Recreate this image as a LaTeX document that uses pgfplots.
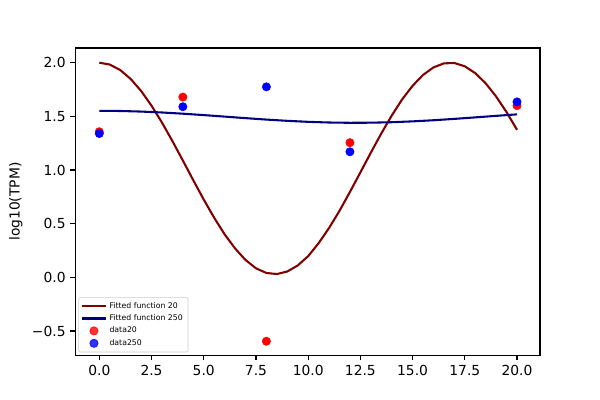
\documentclass[border=0pt]{standalone}
\usepackage{pgfplots}
\pgfplotsset{compat=1.18}
\usepackage{fontspec}
\setmainfont{DejaVu Sans}
\definecolor{mred}{RGB}{128,0,0}
\definecolor{mnavy}{RGB}{0,0,128}
\begin{document}
\begin{tikzpicture}
\begin{axis}[
  name=ax,
  scale only axis,
  width=4.647in, height=3.073in,
  xmin=-1.15, xmax=21.1, ymin=-0.726, ymax=2.137,
  xtick={0,2.5,5,7.5,10,12.5,15,17.5,20},
  xticklabels={0.0,2.5,5.0,7.5,10.0,12.5,15.0,17.5,20.0},
  ytick={-0.5,0,0.5,1,1.5,2},
  yticklabels={−0.5,0.0,0.5,1.0,1.5,2.0},
  tick align=outside,
  major tick length=3.5pt,
  tick style={black, line width=0.8pt},
  xtick pos=bottom, ytick pos=left,
  axis line style={line width=0.8pt},
  tick label style={font=\fontsize{10}{12}\selectfont},
  ylabel={log10(TPM)},
  ylabel style={font=\fontsize{10}{12}\selectfont},
  every axis y label/.style={at={(ticklabel cs:0.5)}, rotate=90, anchor=south},
  legend cell align=left,
  legend image post style={},
  legend style={at={(0,0)}, anchor=south west, xshift=2.2pt, yshift=2.2pt,
    font=\fontsize{5.6}{6.5}\selectfont, draw=black!20, rounded corners=1.5pt,
    fill=white, fill opacity=0.8, text opacity=1, inner sep=1.8pt, row sep=0pt,
    nodes={inner ysep=1.6pt}},
]
\addplot[mred, line width=1.5pt] coordinates {
(0,2.0000)(0.5,1.9828)(1,1.9319)(1.5,1.8490)(2,1.7371)(2.5,1.5994)(3,1.4424)(3.5,1.2699)
(4,1.0886)(4.5,0.9047)(5,0.7247)(5.5,0.5551)(6,0.4009)(6.5,0.2693)(7,0.1620)(7.5,0.0845)
(8,0.0410)(8.5,0.0310)(9,0.0547)(9.5,0.1110)(10,0.1975)(10.5,0.3185)(11,0.4601)(11.5,0.6199)
(12,0.7958)(12.5,0.9782)(13,1.1618)(13.5,1.3403)(14,1.5075)(14.5,1.6586)(15,1.7851)(15.5,1.8861)
(16,1.9562)(16.5,1.9938)(17,1.9972)(17.5,1.9664)(18,1.9025)(18.5,1.8075)(19,1.6850)(19.5,1.5391)
(20,1.3749)};
\addlegendentry{Fitted function 20}
\addplot[mnavy, line width=1.5pt] coordinates {
(0,1.5520)(1,1.5502)(2,1.5448)(3,1.5362)(4,1.5250)(5,1.5119)(6,1.4978)(7,1.4835)(8,1.4701)
(9,1.4584)(10,1.4491)(11,1.4428)(12,1.4401)(13,1.4411)(14,1.4455)(15,1.4534)(16,1.4639)
(17,1.4766)(18,1.4906)(19,1.5049)(20,1.5187)};
\addlegendentry{Fitted function 250}
\addplot[only marks, mark=*, mark size=3pt, color=red, mark options={draw=none, fill=red}] coordinates {
(0,1.357)(4,1.68)(8,-0.595)(12,1.255)(20,1.60)};
\addlegendentry{data20}
\addplot[only marks, mark=*, mark size=3pt, color=blue, mark options={draw=none, fill=blue}] coordinates {
(0,1.34)(4,1.59)(8,1.775)(12,1.17)(20,1.635)};
\addlegendentry{data250}
\end{axis}
\path[use as bounding box] ([xshift=-0.753in,yshift=-0.447in]ax.south west) rectangle ([xshift=0.60in,yshift=0.48in]ax.north east);
\end{tikzpicture}
\end{document}
